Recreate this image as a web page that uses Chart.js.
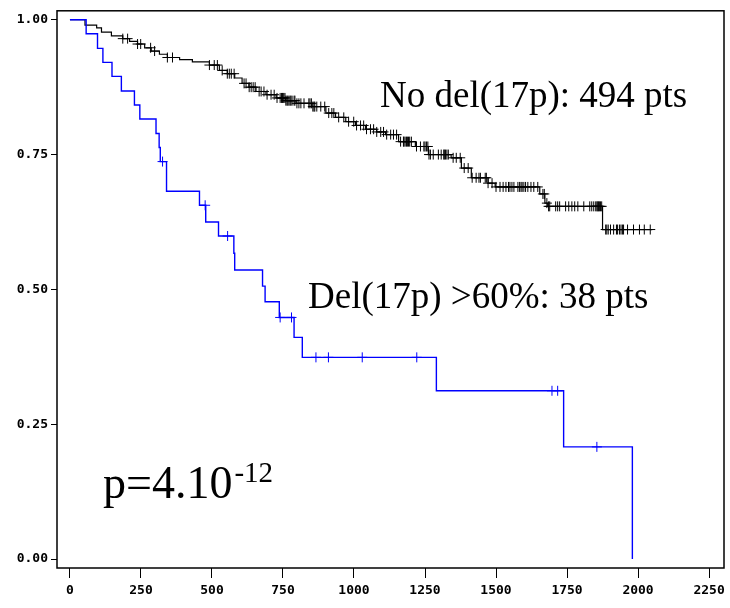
<!DOCTYPE html>
<html>
<head>
<meta charset="utf-8">
<script src="https://cdn.jsdelivr.net/npm/chart.js@4/dist/chart.umd.min.js"></script>
<style>
  body { margin: 0; background: #fff; }
  canvas { display: block; }
</style>
</head>
<body>
<canvas id="km" width="730" height="608"></canvas>
<script>
const xTicks = [0, 250, 500, 750, 1000, 1250, 1500, 1750, 2000, 2250];
const yTicks = [0, 0.25, 0.5, 0.75, 1];

// No del(17p): event times (days) and survival after each step
const noDelTimes = [0, 53, 94, 111, 146, 186, 210, 238, 263, 286, 315, 343, 386, 431, 491,
  526, 554, 580, 606, 630, 655, 690, 726, 760, 796, 852, 901, 935, 971, 1005,
  1041, 1080, 1111, 1157, 1216, 1262, 1342, 1378, 1413, 1472, 1497, 1654, 1672, 1682, 1875];
const noDelSurv = [1, 0.990, 0.985, 0.977, 0.970, 0.965, 0.960, 0.955, 0.948, 0.942, 0.936, 0.930, 0.926, 0.922, 0.916,
  0.906, 0.900, 0.892, 0.882, 0.875, 0.867, 0.861, 0.855, 0.850, 0.845, 0.839, 0.827, 0.819, 0.811, 0.804,
  0.797, 0.792, 0.787, 0.774, 0.765, 0.750, 0.744, 0.725, 0.707, 0.697, 0.690, 0.677, 0.660, 0.654, 0.611];
const noDelEnd = 2050;
const noDelCensor = [186, 203, 238, 249, 284, 298, 343, 361, 491, 508, 519, 536, 554, 561, 568, 578,
  613, 620, 631, 638, 645, 652, 666, 673, 683, 694, 708, 719, 729, 740, 745, 748, 750, 753, 757, 760,
  764, 767, 771, 775, 778, 782, 789, 792, 799, 806, 813, 824, 841, 845, 850, 855, 859, 862, 869, 883,
  897, 911, 922, 929, 946, 964, 981, 999, 1009, 1023, 1034, 1044, 1058, 1069, 1080, 1094, 1104, 1115,
  1129, 1139, 1150, 1164, 1174, 1176, 1180, 1185, 1188, 1192, 1196, 1202, 1220, 1234, 1246, 1250,
  1255, 1260, 1264, 1269, 1279, 1297, 1307, 1316, 1318, 1322, 1327, 1332, 1349, 1360, 1374, 1388,
  1402, 1416, 1430, 1440, 1445, 1462, 1466, 1472, 1486, 1500, 1514, 1525, 1535, 1544, 1549, 1556,
  1563, 1577, 1583, 1588, 1592, 1598, 1604, 1612, 1623, 1633, 1647, 1665, 1670, 1679, 1685, 1689,
  1710, 1717, 1724, 1745, 1756, 1767, 1777, 1788, 1809, 1830, 1837, 1844, 1851, 1855, 1858, 1861,
  1864, 1868, 1872, 1886, 1890, 1895, 1903, 1914, 1924, 1928, 1935, 1940, 1945, 1949, 1963, 1984,
  2005, 2022, 2043];

// Del(17p) >60%
const delTimes = [0, 57, 97, 116, 148, 181, 227, 246, 303, 314, 318, 340, 456, 478, 523,
  577, 580, 678, 687, 737, 789, 818, 1290, 1738, 1980];
const delSurv = [1, 0.974, 0.947, 0.921, 0.895, 0.868, 0.842, 0.816, 0.789, 0.763, 0.737, 0.682, 0.656, 0.625, 0.599,
  0.567, 0.536, 0.506, 0.477, 0.448, 0.411, 0.374, 0.312, 0.208, 0];
const delCensor = [326, 476, 555, 740, 780, 866, 910, 1029, 1221, 1697, 1717, 1855];

const noDelLabel = 'No del(17p): 494 pts';
const delLabel = 'Del(17p) >60%: 38 pts';

function stepPoints(times, surv, end) {
  const pts = times.map((t, i) => ({ x: t, y: surv[i] }));
  if (end !== undefined) pts.push({ x: end, y: surv[surv.length - 1] });
  return pts;
}

// censored patients sit on the curve at their time
function censorPoints(times, surv, censor) {
  return censor.map(c => {
    let s = surv[0];
    times.forEach((t, i) => { if (t <= c) s = surv[i]; });
    return { x: c, y: s };
  });
}

const frameAndText = {
  id: 'frameAndText',
  afterDatasetsDraw(chart) {
    const { ctx, chartArea: a } = chart;
    ctx.save();
    ctx.strokeStyle = '#000';
    ctx.lineWidth = 1.5;
    ctx.strokeRect(a.left, a.top, a.right - a.left, a.bottom - a.top);

    ctx.fillStyle = '#000';
    ctx.textBaseline = 'alphabetic';
    ctx.font = '37px "Liberation Serif"';
    ctx.fillText(noDelLabel, 380, 107);
    ctx.fillText(delLabel, 308, 308);

    ctx.font = '46px "Liberation Serif"';
    ctx.fillText('p=4.10', 103, 498);
    const w = ctx.measureText('p=4.10').width;
    ctx.font = '29px "Liberation Serif"';
    ctx.fillText('-12', 103 + w + 2, 482);
    ctx.restore();
  }
};

const tickFont = { family: '"DejaVu Sans Mono"', size: 13, weight: 'bold' };

new Chart(document.getElementById('km'), {
  type: 'scatter',
  data: {
    datasets: [
      {
        data: stepPoints(delTimes, delSurv),
        showLine: true,
        stepped: true,
        borderColor: '#0000ff',
        borderWidth: 1.4,
        pointRadius: 0
      },
      {
        data: censorPoints(delTimes, delSurv, delCensor),
        pointStyle: 'cross',
        pointRadius: 5,
        borderColor: '#0000ff',
        borderWidth: 1
      },
      {
        data: stepPoints(noDelTimes, noDelSurv, noDelEnd),
        showLine: true,
        stepped: true,
        borderColor: '#000',
        borderWidth: 1.2,
        pointRadius: 0
      },
      {
        data: censorPoints(noDelTimes, noDelSurv, noDelCensor),
        pointStyle: 'cross',
        pointRadius: 5,
        borderColor: '#000',
        borderWidth: 1
      }
    ]
  },
  options: {
    responsive: false,
    animation: false,
    devicePixelRatio: 1,
    layout: { padding: { top: 9, right: 3, left: 0, bottom: 0 } },
    plugins: { legend: { display: false }, tooltip: { enabled: false } },
    scales: {
      x: {
        type: 'linear',
        min: -45.6,
        max: 2302.6,
        afterBuildTicks: s => { s.ticks = xTicks.map(v => ({ value: v })); },
        afterFit: s => { s.height = 40; },
        border: { display: false },
        grid: { drawOnChartArea: false, tickLength: 10, color: '#000', lineWidth: 1 },
        ticks: { color: '#000', font: tickFont, padding: 5, maxRotation: 0, callback: v => String(v) }
      },
      y: {
        min: -0.0166,
        max: 1.0166,
        afterBuildTicks: s => { s.ticks = yTicks.map(v => ({ value: v })); },
        afterFit: s => { s.width = 57; },
        border: { display: false },
        grid: { drawOnChartArea: false, tickLength: 6, color: '#000', lineWidth: 1 },
        ticks: { color: '#000', font: tickFont, padding: 3, callback: v => v.toFixed(2) }
      }
    }
  },
  plugins: [frameAndText]
});
</script>
</body>
</html>
